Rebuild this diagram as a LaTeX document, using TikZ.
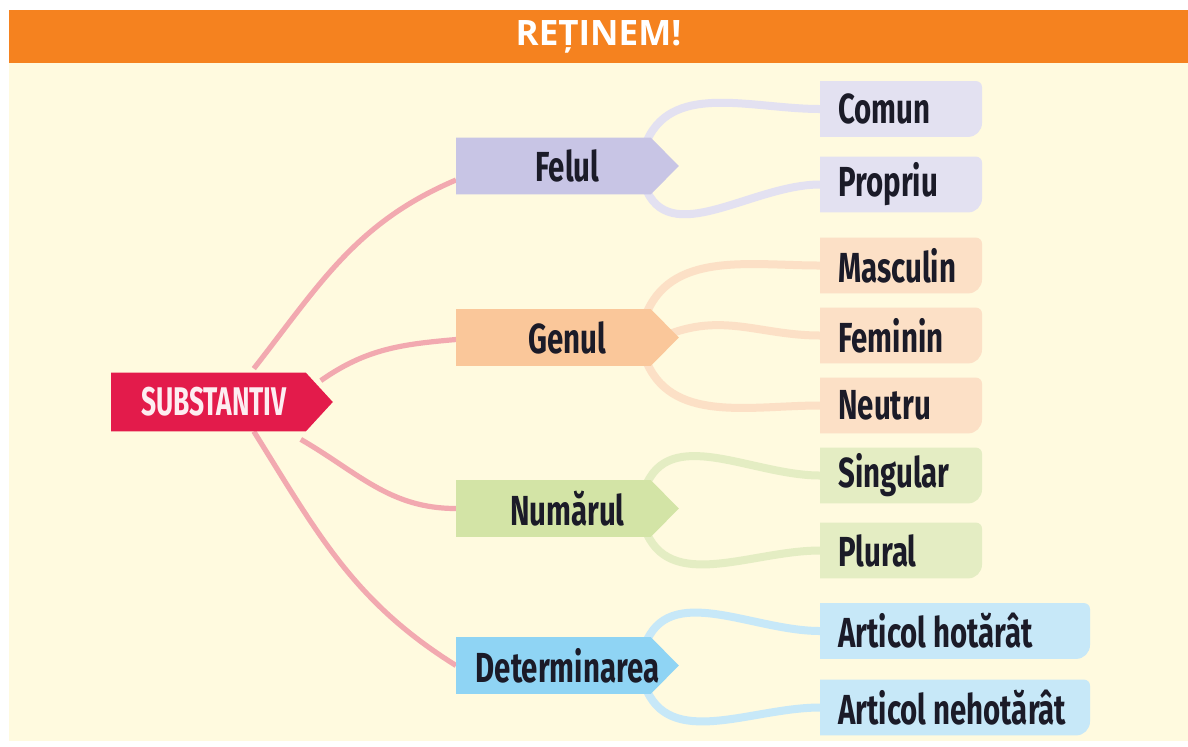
\documentclass[tikz,border=0pt]{standalone}
\usepackage{fontspec}
\newfontfamily\headfont{Open Sans}
\newfontfamily\boxfont{Fira Sans}[FakeStretch=0.7]
\newfontfamily\rootfont{Fira Sans}[FakeStretch=0.66]

\definecolor{paper}{HTML}{FFFADF}
\definecolor{banner}{HTML}{F5821F}
\definecolor{rootred}{HTML}{E31B4B}
\definecolor{rootline}{HTML}{F2A9B0}
\definecolor{ink}{HTML}{1B1B28}
\definecolor{felcat}{HTML}{C8C5E5}
\definecolor{felleaf}{HTML}{E3E1F1}
\definecolor{gencat}{HTML}{FAC79A}
\definecolor{genleaf}{HTML}{FCE0C6}
\definecolor{numcat}{HTML}{D3E4A6}
\definecolor{numleaf}{HTML}{E4EDC3}
\definecolor{detcat}{HTML}{8FD4F4}
\definecolor{detleaf}{HTML}{C7E8F8}

\pgfdeclarelayer{paperlayer}
\pgfdeclarelayer{back}
\pgfsetlayers{paperlayer,back,main}

\begin{document}
\begin{tikzpicture}[x=0.5pt,y=-0.5pt,
    rootbox/.style={minimum width=102.5pt,minimum height=29pt,inner sep=0pt,anchor=west,
        text=white!92!rootred,font=\rootfont\bfseries\fontsize{20}{20}\selectfont},
    catbox/.style={minimum width=111pt,minimum height=28pt,inner sep=0pt,anchor=west,
        text=ink,font=\boxfont\bfseries\fontsize{21}{21}\selectfont},
    leafbox/.style={minimum height=27.5pt,inner xsep=9pt,inner ysep=0pt,anchor=west,
        text=ink,font=\boxfont\bfseries\fontsize{21}{21}\selectfont},
    rootlink/.style={draw=rootline,line width=2.6pt},
    leaflink/.style={draw=#1,line width=4pt},
]
    \useasboundingbox (0,0) rectangle (1188,746);

    \begin{pgfonlayer}{paperlayer}
        \fill[white] (0,0) rectangle (1188,746);
        \fill[paper] (9,63) rectangle (1188,741);
        \fill[banner] (9,10) rectangle (1188,63);
    \end{pgfonlayer}
    \node [text=white,font=\headfont\bfseries\fontsize{17.5}{17.5}\selectfont] (title) at (598.5,37) {REȚINEM!};

    \node [rootbox] (subst) at (111,402) {SUBSTANTIV};

    \node [catbox] (felul) at (456,166) {Felul};
    \node [catbox] (genul) at (456,337.5) {Genul};
    \node [catbox] (numar) at (456,508.5) {Numărul};
    \node [catbox] (determ) at (456,665.5) {Determinarea};

    \node [leafbox] (comun) at (820,109) {Comun};
    \node [leafbox] (propriu) at (820,184.5) {Propriu};
    \node [leafbox] (masc) at (820,265.5) {Masculin};
    \node [leafbox] (fem) at (820,335.5) {Feminin};
    \node [leafbox] (neutru) at (820,405.5) {Neutru};
    \node [leafbox] (sing) at (820,475.5) {Singular};
    \node [leafbox] (plural) at (820,550.5) {Plural};
    \node [leafbox] (hotarat) at (820,631) {Articol hotărât};
    \node [leafbox] (nehotarat) at (820,707.5) {Articol nehotărât};

    \begin{pgfonlayer}{back}
        % root to the four categories
        \path [rootlink] ([xshift=-31.5pt,yshift=2pt]subst.north east) to[out=52,in=203] ([yshift=-7pt]felul.west);
        \path [rootlink] ([xshift=2pt,yshift=-4pt]subst.north east) to[out=35,in=185] ([yshift=-1pt]genul.west);
        \path [rootlink] ([xshift=-8pt,yshift=-4pt]subst.south east) to[out=-30,in=180] (numar.west);
        \path [rootlink] ([xshift=-31.5pt]subst.south east) to[out=-58,in=148] (determ.west);

        % categories to leaves
        \path [leaflink=felleaf] ([xshift=-17pt,yshift=10pt]felul.east) to[out=70,in=180] (comun.west);
        \path [leaflink=felleaf] ([xshift=-17pt,yshift=-10pt]felul.east) to[out=-70,in=180] (propriu.west);
        \path [leaflink=genleaf] ([xshift=-17pt,yshift=10pt]genul.east) to[out=70,in=180] (masc.west);
        \path [leaflink=genleaf] ([xshift=-4pt,yshift=2pt]genul.east) to[out=20,in=180] (fem.west);
        \path [leaflink=genleaf] ([xshift=-17pt,yshift=-10pt]genul.east) to[out=-70,in=180] (neutru.west);
        \path [leaflink=numleaf] ([xshift=-17pt,yshift=10pt]numar.east) to[out=70,in=180] (sing.west);
        \path [leaflink=numleaf] ([xshift=-17pt,yshift=-10pt]numar.east) to[out=-70,in=180] (plural.west);
        \path [leaflink=detleaf] ([xshift=-17pt,yshift=10pt]determ.east) to[out=70,in=180] (hotarat.west);
        \path [leaflink=detleaf] ([xshift=-17pt,yshift=-10pt]determ.east) to[out=-70,in=180] (nehotarat.west);

        % arrow shaped boxes
        \fill [rootred] (subst.north west) -- ([xshift=-5.5pt]subst.north east) -- ([xshift=8pt]subst.east)
            -- ([xshift=-5.5pt]subst.south east) -- (subst.south west) -- cycle;
        \foreach \n/\c in {felul/felcat,genul/gencat,numar/numcat,determ/detcat}
            \fill [\c] (\n.north west) -- ([xshift=-14pt]\n.north east) -- (\n.east)
                -- ([xshift=-14pt]\n.south east) -- (\n.south west) -- cycle;

        % leaf backgrounds
        \foreach \n/\c/\w in {comun/felleaf/81pt,propriu/felleaf/81pt,masc/genleaf/81pt,fem/genleaf/81pt,
                neutru/genleaf/81pt,sing/numleaf/81pt,plural/numleaf/81pt,hotarat/detleaf/135pt,nehotarat/detleaf/135pt}
            \fill [\c] (\n.north west) -- ([xshift=\w-3pt]\n.north west) to[out=0,in=90] ([xshift=\w,yshift=-3pt]\n.north west)
                -- ([xshift=\w,yshift=7pt]\n.south west) to[out=-90,in=0] ([xshift=\w-7pt]\n.south west) -- (\n.south west) -- cycle;
    \end{pgfonlayer}
\end{tikzpicture}
\end{document}
